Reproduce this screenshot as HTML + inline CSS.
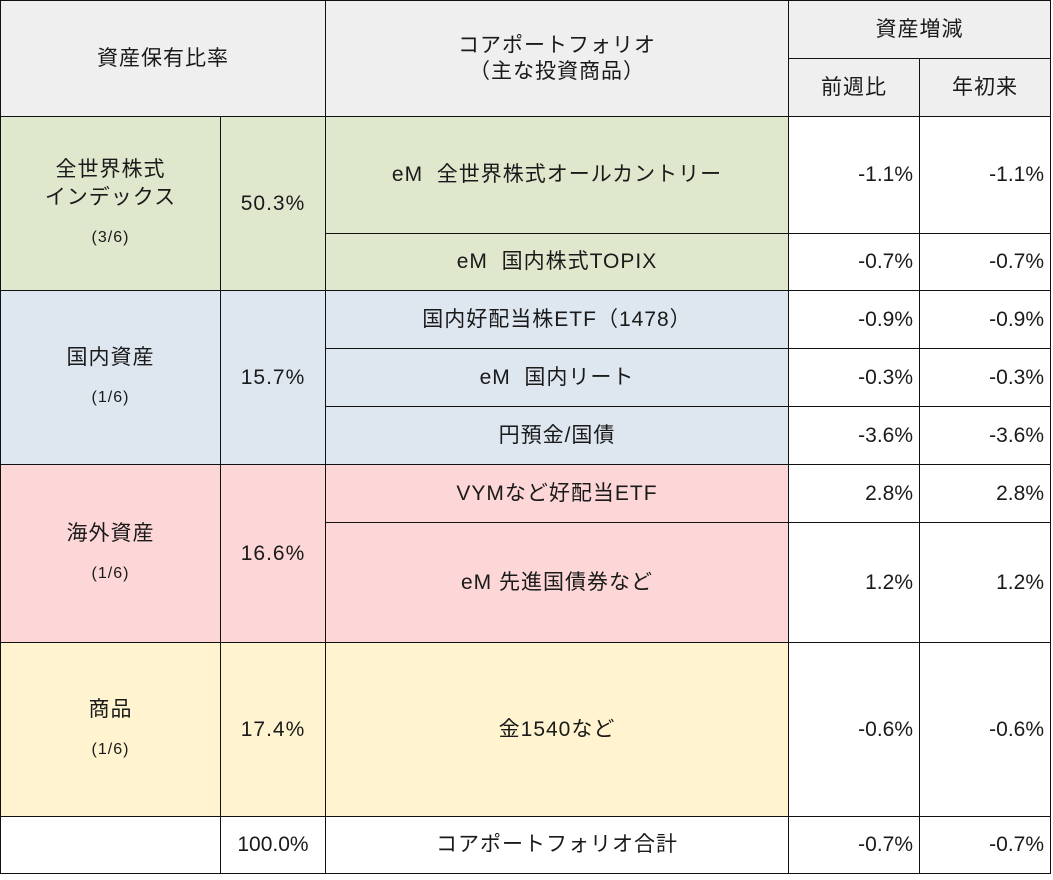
<!DOCTYPE html>
<html><head><meta charset="utf-8"><style>
body{margin:0;width:1053px;height:880px;background:#fff;position:relative;overflow:hidden;font-family:"Liberation Sans","Noto Sans CJK JP",sans-serif;color:#1a1a1a;font-size:21px}
.c{position:absolute;box-sizing:border-box;border:1px solid #111;display:flex;align-items:center;justify-content:center;text-align:center;line-height:28px;letter-spacing:1px}
.r{justify-content:flex-end;padding-right:6px;letter-spacing:0}
.g{background:#efefef}.gr{background:#dfe8cd}.bl{background:#dee6f0}.pk{background:#fdd7d7}.ye{background:#fff4cf}
small{font-size:16px}
</style></head><body>
<div class="c g" style="left:0;top:0;width:326px;height:117px">資産保有比率</div>
<div class="c g" style="left:325px;top:0;width:464px;height:117px;line-height:26px">コアポートフォリオ<br>（主な投資商品）</div>
<div class="c g" style="left:788px;top:0;width:263px;height:59px">資産増減</div>
<div class="c g" style="left:788px;top:58px;width:132px;height:59px">前週比</div>
<div class="c g" style="left:919px;top:58px;width:132px;height:59px">年初来</div>

<div class="c gr" style="left:0;top:116px;width:221px;height:175px;flex-direction:column">全世界株式<br>インデックス<div style="height:12px"></div><small>(3/6)</small></div>
<div class="c gr" style="left:220px;top:116px;width:106px;height:175px">50.3%</div>
<div class="c gr" style="left:325px;top:116px;width:464px;height:118px">eM&nbsp; 全世界株式オールカントリー</div>
<div class="c r" style="left:788px;top:116px;width:132px;height:118px">-1.1%</div>
<div class="c r" style="left:919px;top:116px;width:132px;height:118px">-1.1%</div>
<div class="c gr" style="left:325px;top:233px;width:464px;height:58px">eM&nbsp; 国内株式TOPIX</div>
<div class="c r" style="left:788px;top:233px;width:132px;height:58px">-0.7%</div>
<div class="c r" style="left:919px;top:233px;width:132px;height:58px">-0.7%</div>

<div class="c bl" style="left:0;top:290px;width:221px;height:175px;flex-direction:column">国内資産<div style="height:12px"></div><small>(1/6)</small></div>
<div class="c bl" style="left:220px;top:290px;width:106px;height:175px">15.7%</div>
<div class="c bl" style="left:325px;top:290px;width:464px;height:59px">国内好配当株ETF（1478）</div>
<div class="c r" style="left:788px;top:290px;width:132px;height:59px">-0.9%</div>
<div class="c r" style="left:919px;top:290px;width:132px;height:59px">-0.9%</div>
<div class="c bl" style="left:325px;top:348px;width:464px;height:59px">eM&nbsp; 国内リート</div>
<div class="c r" style="left:788px;top:348px;width:132px;height:59px">-0.3%</div>
<div class="c r" style="left:919px;top:348px;width:132px;height:59px">-0.3%</div>
<div class="c bl" style="left:325px;top:406px;width:464px;height:59px">円預金/国債</div>
<div class="c r" style="left:788px;top:406px;width:132px;height:59px">-3.6%</div>
<div class="c r" style="left:919px;top:406px;width:132px;height:59px">-3.6%</div>

<div class="c pk" style="left:0;top:464px;width:221px;height:179px;flex-direction:column">海外資産<div style="height:12px"></div><small>(1/6)</small></div>
<div class="c pk" style="left:220px;top:464px;width:106px;height:179px">16.6%</div>
<div class="c pk" style="left:325px;top:464px;width:464px;height:59px">VYMなど好配当ETF</div>
<div class="c r" style="left:788px;top:464px;width:132px;height:59px">2.8%</div>
<div class="c r" style="left:919px;top:464px;width:132px;height:59px">2.8%</div>
<div class="c pk" style="left:325px;top:522px;width:464px;height:121px">eM 先進国債券など</div>
<div class="c r" style="left:788px;top:522px;width:132px;height:121px">1.2%</div>
<div class="c r" style="left:919px;top:522px;width:132px;height:121px">1.2%</div>

<div class="c ye" style="left:0;top:642px;width:221px;height:175px;flex-direction:column">商品<div style="height:12px"></div><small>(1/6)</small></div>
<div class="c ye" style="left:220px;top:642px;width:106px;height:175px">17.4%</div>
<div class="c ye" style="left:325px;top:642px;width:464px;height:175px">金1540など</div>
<div class="c r" style="left:788px;top:642px;width:132px;height:175px">-0.6%</div>
<div class="c r" style="left:919px;top:642px;width:132px;height:175px">-0.6%</div>

<div class="c" style="left:0;top:816px;width:221px;height:58px"></div>
<div class="c" style="left:220px;top:816px;width:106px;height:58px;letter-spacing:0">100.0%</div>
<div class="c" style="left:325px;top:816px;width:464px;height:58px">コアポートフォリオ合計</div>
<div class="c r" style="left:788px;top:816px;width:132px;height:58px">-0.7%</div>
<div class="c r" style="left:919px;top:816px;width:132px;height:58px">-0.7%</div>
</body></html>
